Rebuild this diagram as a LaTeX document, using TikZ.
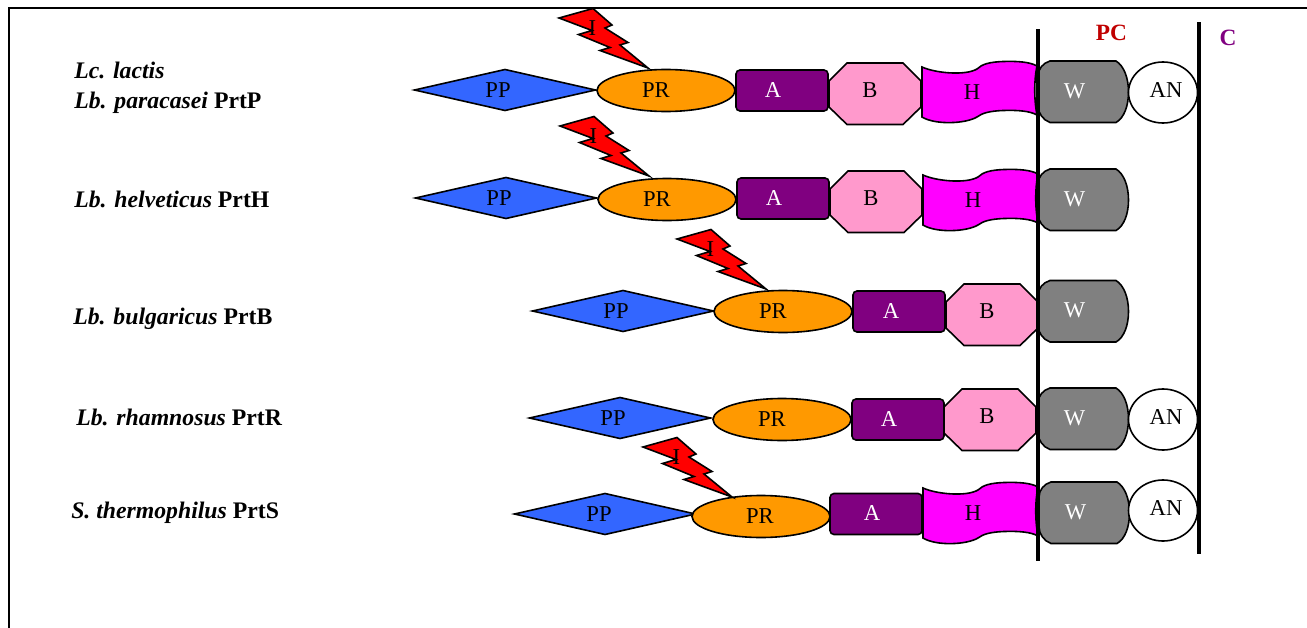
\documentclass[tikz,border=0pt]{standalone}
\usepackage{fontspec}
\setmainfont{Liberation Serif}
\definecolor{ppblue}{HTML}{3366FF}
\definecolor{prorange}{HTML}{FF9900}
\definecolor{apurple}{HTML}{800080}
\definecolor{bpink}{HTML}{FF99CC}
\definecolor{hmag}{HTML}{FF00FF}
\definecolor{wgray}{HTML}{808080}
\definecolor{pcred}{HTML}{C00000}
\tikzset{
 x=0.75pt,y=-0.75pt,
 shp/.style={draw=black,line width=1.2pt,line join=miter},
 lbl/.style={font=\fontsize{17pt}{20pt}\selectfont,inner sep=0pt},
 wlbl/.style={lbl,text=white},
 species/.style={font=\fontsize{17.8pt}{22.5pt}\selectfont\bfseries,inner sep=0pt,align=left},
 bar/.style={draw=black,line width=3pt},
 zone/.style={font=\fontsize{17.5pt}{20pt}\selectfont\bfseries,inner sep=0pt},
}
\newcommand{\PPshape}[4][0]{\begin{scope}[shift={(#2,#3)}]
 \path[shp,fill=ppblue] (414.5,90)--(505,69.5)--(595.5,90)--(505,110.5)--cycle;
 \node[lbl] (#4) at (498+#1,90) {PP};\end{scope}}
\newcommand{\PRshape}[4][0]{\begin{scope}[shift={(#2,#3)}]
 \path[shp,fill=prorange] (666,90.5) ellipse [x radius=69,y radius=21];
 \node[lbl] (#4) at (656+#1,90) {PR};\end{scope}}
\newcommand{\Ashape}[4][0]{\begin{scope}[shift={(#2,#3)}]
 \path[shp,fill=apurple,rounded corners=3pt] (736,70) rectangle (828,111);
 \node[wlbl] (#4) at (773+#1,90) {A};\end{scope}}
\newcommand{\Bshape}[4][0]{\begin{scope}[shift={(#2,#3)}]
 \path[shp,fill=bpink] (847,63)--(903,63)--(921,81)--(921,107)--(903,124.5)--(847,124.5)--(829,107)--(829,81)--cycle;
 \node[lbl] (#4) at (870+#1,90) {B};\end{scope}}
\newcommand{\Hshape}[3]{\begin{scope}[shift={(#1,#2)}]
 \path[shp,fill=hmag] (922,67) .. controls (935,73) and (965,76) .. (977,69)
  .. controls (982,64) and (990,62) .. (1003,61.5) .. controls (1018,61) and (1030,62) .. (1037,66)
  .. controls (1034,80) and (1034,100) .. (1037,115)
  .. controls (1030,111) and (1018,110) .. (1003,110.5) .. controls (990,111) and (982,113) .. (977,117)
  .. controls (965,124) and (935,125) .. (922,117) -- cycle;
 \node[lbl] (#3) at (972,92) {H};\end{scope}}
\newcommand{\Wshape}[3]{\begin{scope}[shift={(#1,#2)}]
 \path[shp,fill=wgray] (1050,61)--(1116,61) .. controls (1124,66) and (1128.5,78) .. (1128.5,92)
  .. controls (1128.5,106) and (1124,118) .. (1116,122.5)--(1050,122.5)
  .. controls (1043,120) and (1038,113) .. (1038,106)--(1038,76) .. controls (1038,69) and (1043,63) .. (1050,61)--cycle;
 \node[wlbl] (#3) at (1074.5,91) {W};\end{scope}}
\newcommand{\ANshape}[3]{\begin{scope}[shift={(#1,#2)}]
 \path[shp,fill=white] (1163,92.5) ellipse [x radius=34.5,y radius=30.5];
 \node[lbl] (#3) at (1166,90.5) {AN};\end{scope}}
\newcommand{\Jshape}[3]{\begin{scope}[shift={(#1,#2)}]
 \path[shp,fill=red] (593,8.5)--(612,25)--(605,28)--(628,42.5)--(620,45)--(648,68)--(600,50.5)--(610,47.5)--(578.5,34.5)--(592,30.5)--(559,18)--cycle;
 \node[lbl] (#3) at (592.5,28) {I};\end{scope}}
\begin{document}
\begin{tikzpicture}
\useasboundingbox (0,0) rectangle (1307,628);
\draw[line width=1.6pt] (9,628)--(9,8)--(1307,8);
% row 1
\PPshape{0}{0}{ppa}\Ashape{0}{0}{aa}\Bshape{0}{0}{ba}\Hshape{0}{0}{ha}\Wshape{0}{0}{wa}\ANshape{0}{0}{ana}\PRshape{0}{0}{pra}\Jshape{0}{0}{ja}
% row 2
\PPshape{1}{108}{ppb}\Ashape{1}{108}{ab}\Bshape{1}{108}{bb}\Hshape{1}{108}{hb}\Wshape{0}{108}{wb}\PRshape{1}{109}{prb}\Jshape{1}{108}{jb}
% row 3
\PPshape{118}{221}{ppc}\Ashape[1]{117}{221}{ac}\Bshape{117}{221}{bc}\Wshape{0}{219.5}{wc}\PRshape{117}{221}{prc}\Jshape{118}{221}{jc}
% row 4
\PPshape{115}{328}{ppd}\Ashape{116}{329}{ad}\Bshape[2]{115}{326}{bd}\Wshape{0}{327}{wd}\ANshape{0}{327}{and}\PRshape{116}{329}{prd}
% row 5
\PPshape[1]{100}{424}{ppe}\Ashape[5]{94}{423.5}{ae}\Hshape{1}{421}{he}\Wshape{1}{421}{we}\ANshape{0}{418}{ane}\PRshape[9]{95}{426}{pre}\Jshape{84}{429}{je}
% membrane bars
\draw[bar] (1038,29)--(1038,561);
\draw[bar] (1198.5,22)--(1198.5,554);
\node[zone,text=pcred] (pc) at (1111.5,33) {PC};
\node[zone,text=apurple] (cc) at (1228,38) {C};
% species
\node[species,anchor=west] (s1) at (74,87.5) {\textit{Lc. lactis}\\\textit{Lb. paracasei} PrtP};
\node[species,anchor=base west] (s2) at (74,207) {\textit{Lb. helveticus} PrtH};
\node[species,anchor=base west] (s3) at (73,324) {\textit{Lb. bulgaricus} PrtB};
\node[species,anchor=base west] (s4) at (76,425) {\textit{Lb. rhamnosus} PrtR};
\node[species,anchor=base west] (s5) at (71,518) {\textit{S. thermophilus} PrtS};
\end{tikzpicture}
\end{document}
